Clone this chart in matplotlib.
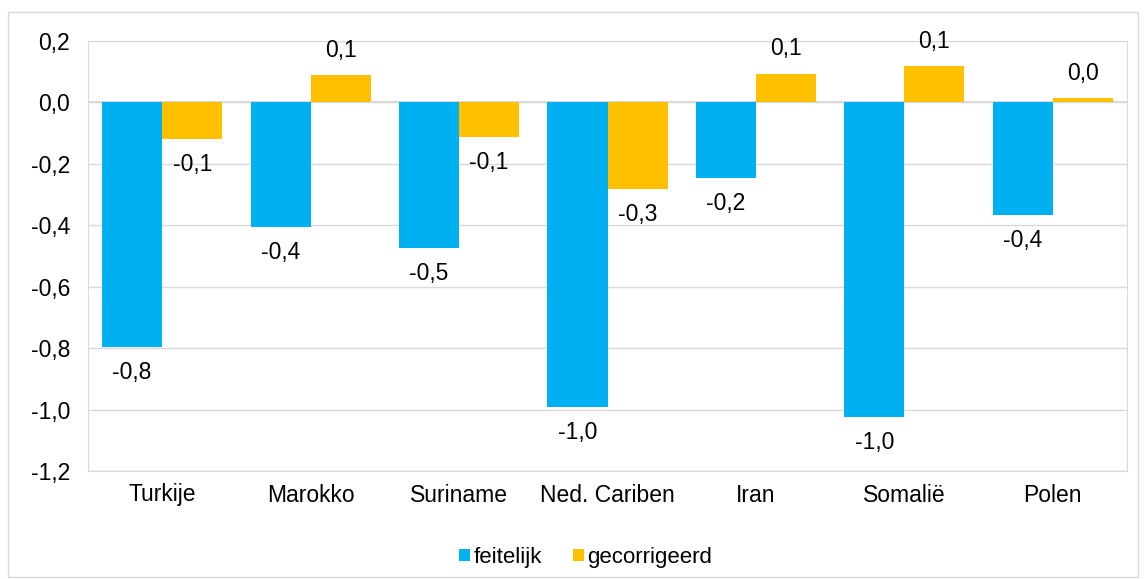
import numpy as np
import matplotlib.pyplot as plt
from matplotlib.patches import Rectangle

plt.rcParams['font.family'] = ['Liberation Sans', 'DejaVu Sans']

categories = ['Turkije', 'Marokko', 'Suriname', 'Ned. Cariben', 'Iran', 'Somalië', 'Polen']
feitelijk = [-0.797, -0.407, -0.475, -0.992, -0.247, -1.024, -0.367]
gecorrigeerd = [-0.12, 0.088, -0.114, -0.283, 0.094, 0.117, 0.013]

blue = '#00b0f0'
orange = '#ffc000'
grid = '#d9d9d9'
fs = 16.5

fig = plt.figure(figsize=(11.44, 5.79), dpi=100)
ax = fig.add_axes([88/1144, 1 - 471/579, (1127-88)/1144, (471-41)/579])

# outer chart border
fig.patches.append(Rectangle((8/1144, 2/579), 1130/1144, 565/579, transform=fig.transFigure,
                             fill=False, edgecolor=grid, linewidth=1))

x = np.arange(len(categories))
w = 0.405
b1 = ax.bar(x - w/2, feitelijk, w, color=blue, label='feitelijk', zorder=3)
b2 = ax.bar(x + w/2, gecorrigeerd, w, color=orange, label='gecorrigeerd', zorder=3)

def fmt(v):
    v = round(v, 1) + 0.0
    if v == 0:
        v = 0.0
    return f'{v:.1f}'.replace('.', ',')

for bars, vals in [(b1, feitelijk), (b2, gecorrigeerd)]:
    for rect, v in zip(bars, vals):
        cx = rect.get_x() + rect.get_width()/2
        off = 10 if v >= 0 else -10
        ax.annotate(fmt(v), (cx, v), xytext=(0, off), textcoords='offset points',
                    ha='center', va='bottom' if v >= 0 else 'top', fontsize=fs)

ax.set_xlim(-0.5, len(categories) - 0.5)
ax.set_ylim(-1.2, 0.2)
yt = np.round(np.arange(-1.2, 0.21, 0.2), 1)
ax.set_yticks(yt)
ax.set_yticklabels([fmt(v) for v in yt], fontsize=fs)
ax.set_xticks(x)
ax.set_xticklabels(categories, fontsize=fs)
ax.tick_params(length=0, pad=9)
ax.tick_params(axis='y', pad=13)
ax.yaxis.grid(True, color=grid, linewidth=1, zorder=0)
for s in ax.spines.values():
    s.set_color(grid)
ax.axhline(0, color=grid, linewidth=1.5, zorder=2)

ax.legend(loc='upper center', bbox_to_anchor=(0.479, -0.13), ncol=2, frameon=False,
          fontsize=16, handlelength=0.5, handleheight=0.5, handletextpad=0.15,
          columnspacing=1.4)

fig.savefig('out.png', dpi=100)
